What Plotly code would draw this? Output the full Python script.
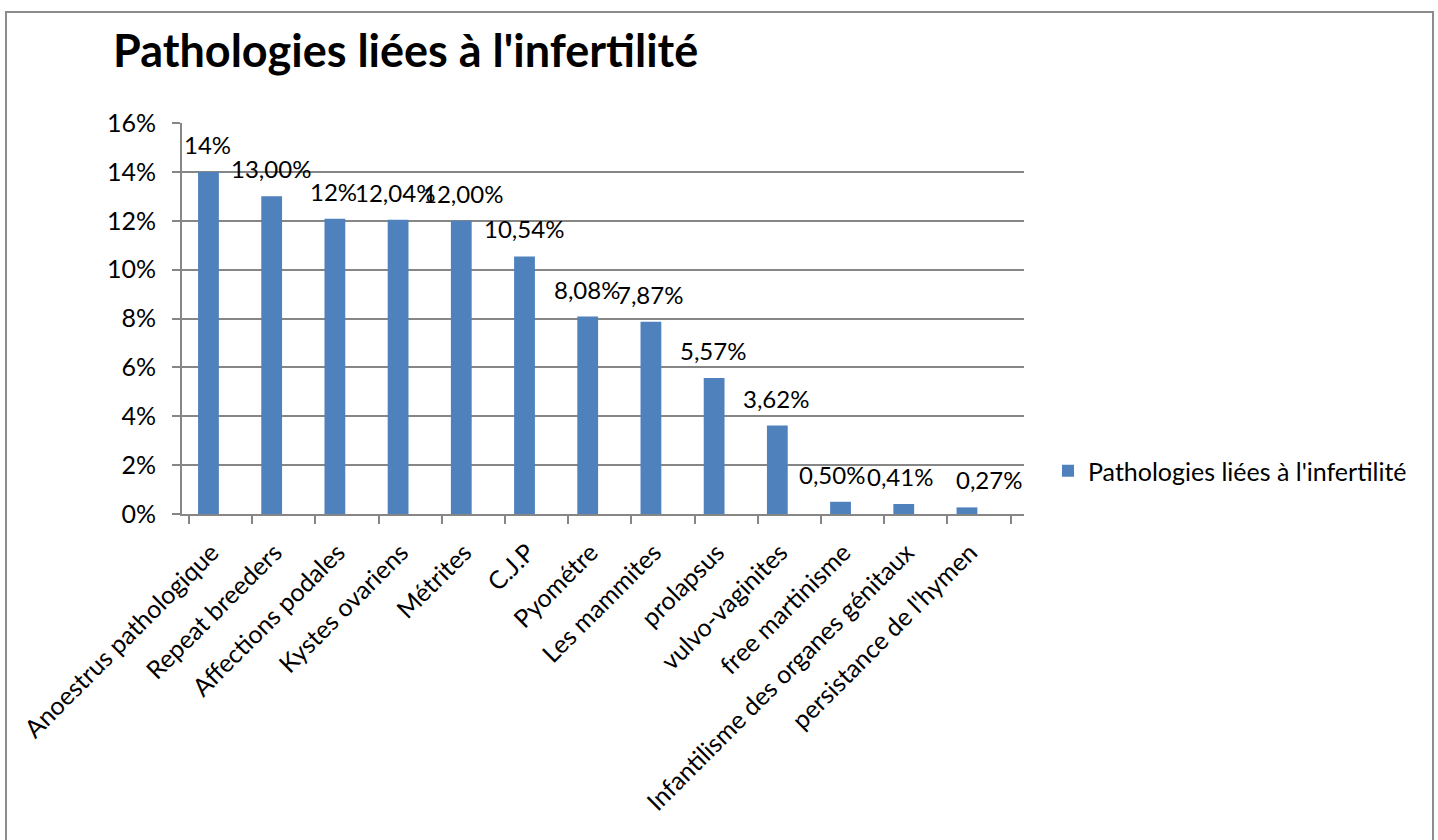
import plotly.graph_objects as go

categories = ["Anoestrus pathologique", "Repeat breeders", "Affections podales",
              "Kystes ovariens", "Métrites", "C.J.P", "Pyométre", "Les mammites",
              "prolapsus", "vulvo-vaginites", "free martinisme",
              "Infantilisme des organes génitaux", "persistance de l'hymen"]
values = [14.0, 13.0, 12.08, 12.04, 12.0, 10.54, 8.08, 7.87, 5.57, 3.62, 0.50, 0.41, 0.27]
value_labels = ["14%", "13,00%", "12%", "12,04%", "12,00%", "10,54%", "8,08%",
                "7,87%", "5,57%", "3,62%", "0,50%", "0,41%", "0,27%"]
label_xshift = [-13, -13, -13, -15, -10, -13, -13, -13, -13, -13, -21, -16, 10]

series_name = "Pathologies liées à l'infertilité"
title_text = "Pathologies liées à l'infertilité"

FONT = "Lato"
BAR = "#4F81BD"
GRID = "#868686"
FS = 25

W, H = 1438, 840
L, R_PX, T, B_PX = 182, 1024, 123, 514

fig = go.Figure()
fig.add_trace(go.Bar(x=categories, y=values, name=series_name,
                     width=0.329, offset=-0.355,
                     marker=dict(color=BAR, line=dict(width=0)),
                     showlegend=True))

for c, v, t, dx in zip(categories, values, value_labels, label_xshift):
    fig.add_annotation(x=c, y=v, text=t, showarrow=False, yanchor="bottom",
                       yshift=11, xshift=dx,
                       font=dict(family=FONT, size=24, color="#000000"))

pw = R_PX - L
ph = B_PX - T
def px_x(p):
    return (p - L) / pw
def px_y(p):
    return (B_PX - p) / ph

fig.add_shape(type="rect", xref="paper", yref="paper",
              x0=px_x(6), x1=px_x(1433), y0=px_y(845), y1=px_y(12),
              line=dict(color="#8C8C8C", width=2), fillcolor="rgba(0,0,0,0)",
              layer="below")

fig.update_layout(
    width=W, height=H,
    margin=dict(l=L, r=W - R_PX, t=T, b=H - B_PX, pad=0),
    paper_bgcolor="white", plot_bgcolor="white",
    font=dict(family=FONT, size=FS, color="#000000"),
    title=dict(text="<b>" + title_text + "</b>", x=113 / W, xanchor="left",
               y=1 - 51 / H, yanchor="middle",
               font=dict(family=FONT, size=45, color="#000000")),
    legend=dict(x=px_x(1048), y=px_y(471), xanchor="left", yanchor="middle",
                font=dict(family=FONT, size=FS, color="#000000"),
                itemwidth=30, bgcolor="rgba(0,0,0,0)"),
    xaxis=dict(type="category", tickangle=-45, tickson="boundaries",
               ticks="outside", ticklen=8, tickcolor=GRID, tickwidth=1.5,
               ticklabelstandoff=12, ticklabelshift=-9,
               showgrid=False, showline=True, linecolor=GRID, linewidth=2,
               tickfont=dict(family=FONT, size=FS, color="#000000")),
    yaxis=dict(range=[0, 16], dtick=2, tick0=0, ticksuffix="%",
               ticks="outside", ticklen=8, tickcolor=GRID, tickwidth=1.5,
               ticklabelstandoff=11,
               showgrid=True, gridcolor=GRID, gridwidth=1.5,
               showline=True, linecolor=GRID, linewidth=2,
               zeroline=False,
               tickfont=dict(family=FONT, size=FS, color="#000000")),
)

fig.write_html("out.html")
